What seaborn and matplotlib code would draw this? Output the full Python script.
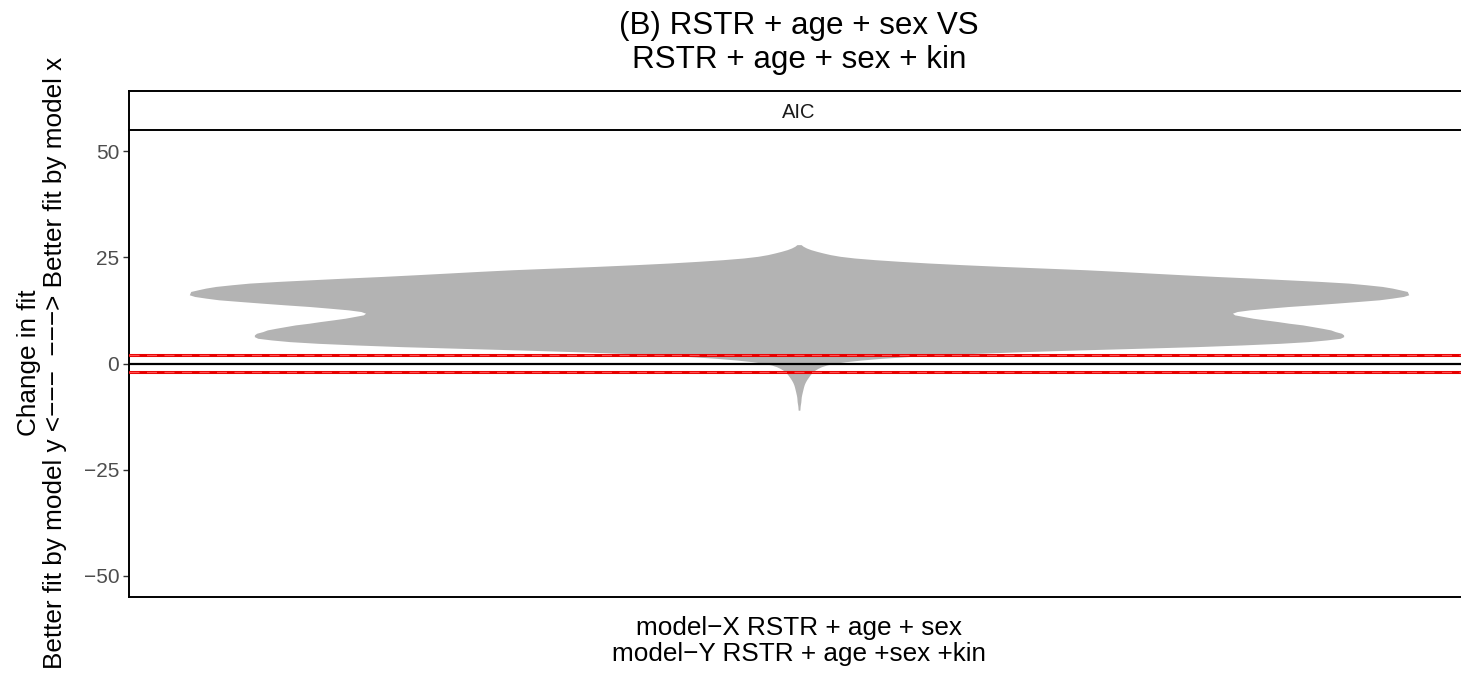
import numpy as np
import pandas as pd
import matplotlib
matplotlib.use("Agg")
import matplotlib.pyplot as plt
import seaborn as sns

# ---- data ----
aic_change = [-11, -10, -9, -8, -7, -6, -5, -4, -3, -2, -1, 0, 1, 2, 3, 4, 5, 6, 7, 8,
              9, 10, 11, 12, 13, 14, 15, 16, 17, 18, 19, 20, 21, 22, 23, 24, 25, 26, 27, 28]
counts = [1, 1, 2, 2, 3, 4, 5, 7, 10, 13, 19, 30, 65, 130, 240, 410, 505, 545, 540, 527,
          503, 470, 440, 420, 460, 520, 580, 608, 605, 585, 550, 460, 368, 300, 182, 100, 42, 24, 8, 1]
category = "model-X RSTR + age + sex"
thresholds = [-2, 2]
yticks = [-50, -25, 0, 25, 50]

title = "(B) RSTR + age + sex VS\nRSTR + age + sex + kin"
xlabel = "model\u2212X RSTR + age + sex\nmodel\u2212Y RSTR + age +sex +kin"
ylabel = "Change in fit\nBetter fit by model y <\u2212\u2212\u2212  \u2212\u2212\u2212> Better fit by model x"
strip_label = "AIC"

samples = np.repeat(np.array(aic_change, dtype=float), counts)
df = pd.DataFrame({"model": category, "delta": samples})

sns.set_theme(style="white")
plt.rcParams["font.family"] = ["Liberation Sans", "DejaVu Sans"]

W, H = 1461, 676
fig = plt.figure(figsize=(W / 100, H / 100), dpi=100)

# panel extends slightly past the right edge, as in the reference
left_px, right_px, top_px, bot_px = 129, 1469, 130, 597
ax = fig.add_axes([left_px / W, 1 - bot_px / H, (right_px - left_px) / W, (bot_px - top_px) / H])

sns.violinplot(data=df, x="model", y="delta", ax=ax, color="#b3b3b3", saturation=1,
               inner=None, linewidth=0, cut=0, width=0.91,
               bw_method=0.6 / np.std(samples))

ax.set_xlim(-0.5, 0.5)
ax.set_ylim(-55, 55)
ax.set_yticks(yticks)
ax.set_xticks([])
ax.set_xlabel("")
ax.set_ylabel("")

ax.axhline(0, color="black", lw=1.6, zorder=5)
for t in thresholds:
    ax.axhline(t, color="#e60000", lw=2.2, zorder=5)
    ax.axhline(t, color="#ff5050", lw=0.9, ls=(0, (8, 6)), zorder=6)

for s in ["top", "right"]:
    ax.spines[s].set_visible(False)
for s in ["left", "bottom"]:
    ax.spines[s].set_color("black")
    ax.spines[s].set_linewidth(1.4)
ax.tick_params(axis="y", left=True, length=4, width=1.0, color="#333333",
               labelsize=15, labelcolor="#4d4d4d", pad=3)

# facet strip
strip_top = 91
sax = fig.add_axes([left_px / W, 1 - top_px / H, (right_px - left_px) / W, (top_px - strip_top) / H])
sax.set_xticks([])
sax.set_yticks([])
sax.set_facecolor("white")
for s in sax.spines.values():
    s.set_color("black")
    s.set_linewidth(1.4)
sax.text(0.5, 0.44, strip_label, ha="center", va="center", fontsize=14.5, color="#1a1a1a",
         transform=sax.transAxes)

cx = 799 / W
fig.text(cx, 1 - 43 / H, title, ha="center", va="center", fontsize=22.6, linespacing=1.2,
         color="black")
fig.text(cx, 1 - 641 / H, xlabel, ha="center", va="center", fontsize=18.8, linespacing=1.06,
         color="black")
fig.text(42 / W, 1 - 363 / H, ylabel, ha="center", va="center", rotation=90, fontsize=18.8,
         linespacing=1.06, color="black")

fig.savefig("out.png", dpi=100)
